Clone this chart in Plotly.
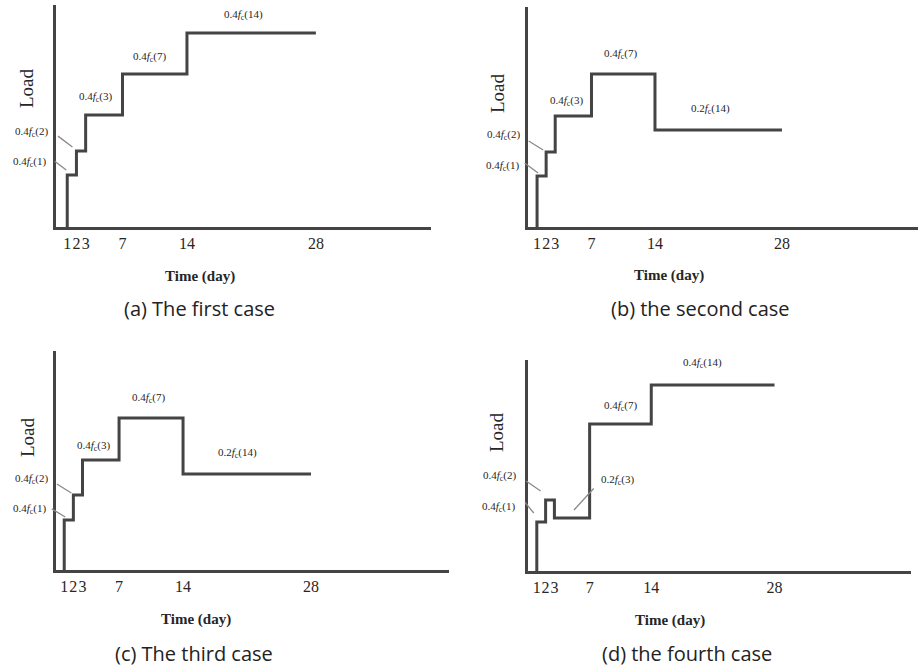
import plotly.graph_objects as go

W, H = 918, 670

# ---------------- data ----------------
days = [1, 2, 3, 7, 14, 28]
tick_vals = [1, 2, 3, 7, 14, 28]
tick_text = ["1", "2", "3", "7", "14", "28"]

load_a = [52, 76, 112, 153, 194]
load_b = [51, 75, 111, 153, 97]
load_c = [50, 75, 110, 152, 96]
load_d = [49, 71, 53, 147, 186]

coef_a = [0.4, 0.4, 0.4, 0.4, 0.4]
coef_b = [0.4, 0.4, 0.4, 0.4, 0.2]
coef_c = [0.4, 0.4, 0.4, 0.4, 0.2]
coef_d = [0.4, 0.4, 0.2, 0.4, 0.4]
ages = [1, 2, 3, 7, 14]

captions = ["(a) The first case", "(b) the second case",
            "(c) The third case", "(d) the fourth case"]

# ---------------- layout / style ----------------
SERIF = "Liberation Serif, Times New Roman, serif"
SANS = "Open Sans, Noto Sans, sans-serif"
LINE = "#444444"
TXT = "#262626"

panels = [
    dict(load=load_a, coef=coef_a, px=(56, 431), py=(5, 227), xr=[-0.22, 40.5], ymax=222,
         lab=[(-8, 13), (-6, 19)], lead=[(-1, 5, -13, -10), (-4, 4, -16, -12)],
         top={2: (-9, 18), 3: (-5, 17), 4: (-8, 18)},
         time=(200, 276), loadlbl=(26, 88), cap=(199, 308)),
    dict(load=load_b, coef=coef_b, px=(528, 918), py=(7, 227), xr=[0, 43], ymax=220,
         lab=[(-7, 10), (-6, 17)], lead=[(1, 3, -15, -11), (-3, 2, -16, -10)],
         top={2: (-7, 15), 3: (-3, 20), 4: (-8, 21)},
         time=(669, 275), loadlbl=(498, 93), cap=(700, 308)),
    dict(load=load_c, coef=coef_c, px=(56, 449), py=(351, 570), xr=[0.1, 43.1], ymax=219,
         lab=[(-8, 11), (-6, 16)], lead=[(1, 3, -15, -9), (-2, 2, -16, -10)],
         top={2: (-7, 14), 3: (-3, 20), 4: (-10, 21)},
         time=(196, 619), loadlbl=(27, 437), cap=(194, 653)),
    dict(load=load_d, coef=coef_d, px=(528, 911), py=(360, 571), xr=[0, 43.5], ymax=211,
         lab=[(-11, 15), (-10, 24)], lead=[(-3, 9, -10, -12), (-5, 9, -16, -11)],
         top={3: (0, 18), 4: (-10, 22)},
         special=dict(lab=(9, 38), lead=(2, 8, 21, -23)),
         time=(670, 620), loadlbl=(496, 432), cap=(687, 653)),
]


def ftext(c, a):
    return f"{c}<i>f</i><sub>c</sub>({a})"


def leader(xa, ya, x, y, tx, ty, axp, ayp):
    # thin grey leader line drawn as an annotation arrow without text
    return dict(xref=xa, yref=ya, x=x, y=y, text="",
                showarrow=True, arrowhead=0, arrowwidth=1.3, arrowcolor="#8a8a8a",
                ax=axp, ay=ayp, standoff=0, xshift=tx, yshift=ty)


fig = go.Figure()
annotations = []
layout = {}

for i, p in enumerate(panels):
    n = "" if i == 0 else str(i + 1)
    xa, ya = "x" + n, "y" + n
    xs = [days[0]] + days
    ys = [0] + p["load"] + [p["load"][-1]]
    fig.add_trace(go.Scatter(x=xs, y=ys, mode="lines", line=dict(color=LINE, width=3, shape="hv"),
                             xaxis=xa, yaxis=ya, showlegend=False, hoverinfo="skip"))
    layout["xaxis" + n] = dict(
        domain=[p["px"][0] / W, p["px"][1] / W], anchor=ya, range=p["xr"],
        showgrid=False, zeroline=False, showline=True, linecolor=LINE, linewidth=3,
        tickmode="array", tickvals=tick_vals, ticktext=tick_text, ticks="", tickangle=0,
        ticklabelstandoff=0,
        tickfont=dict(family=SERIF, size=16, color=TXT))
    layout["yaxis" + n] = dict(
        domain=[1 - p["py"][1] / H, 1 - p["py"][0] / H], anchor=xa, range=[0, p["ymax"]],
        showgrid=False, zeroline=False, showline=True, linecolor=LINE, linewidth=3,
        showticklabels=False, ticks="")

    lf = dict(family=SERIF, size=11, color=TXT)
    # left labels (day 1 and day 2) with leader lines
    for k in range(2):
        xsft, ysft = p["lab"][k]
        annotations.append(dict(xref=xa + " domain", yref=ya, x=0, y=p["load"][k],
                                text=ftext(p["coef"][k], ages[k]), showarrow=False,
                                xanchor="right", yanchor="middle", xshift=xsft, yshift=ysft, font=lf))
        annotations.append(leader(xa, ya, days[k], p["load"][k], *p["lead"][k]))
    # top labels
    for k, (xsft, ysft) in p["top"].items():
        annotations.append(dict(xref=xa, yref=ya, x=(days[k] + days[k + 1]) / 2, y=p["load"][k],
                                text=ftext(p["coef"][k], ages[k]), showarrow=False,
                                xanchor="center", yanchor="middle", xshift=xsft, yshift=ysft, font=lf))
    if "special" in p:
        s = p["special"]
        annotations.append(dict(xref=xa, yref=ya, x=days[3], y=p["load"][2],
                                text=ftext(p["coef"][2], ages[2]), showarrow=False,
                                xanchor="left", yanchor="middle", xshift=s["lab"][0], yshift=s["lab"][1], font=lf))
        annotations.append(leader(xa, ya, (days[2] + days[3]) / 2, p["load"][2], *s["lead"]))
    # axis titles and captions
    annotations.append(dict(xref="paper", yref="paper", x=p["time"][0] / W, y=1 - p["time"][1] / H,
                            text="<b>Time (day)</b>", showarrow=False, xanchor="center", yanchor="middle",
                            font=dict(family=SERIF, size=15, color=TXT)))
    annotations.append(dict(xref="paper", yref="paper", x=p["loadlbl"][0] / W, y=1 - p["loadlbl"][1] / H,
                            text="Load", textangle=-90, showarrow=False, xanchor="center", yanchor="middle",
                            font=dict(family=SERIF, size=19, color=TXT)))
    annotations.append(dict(xref="paper", yref="paper", x=p["cap"][0] / W, y=1 - p["cap"][1] / H,
                            text=captions[i], showarrow=False, xanchor="center", yanchor="middle",
                            font=dict(family=SANS, size=20, color="#222222")))

fig.update_layout(width=W, height=H, margin=dict(l=0, r=0, t=0, b=0),
                  plot_bgcolor="white", paper_bgcolor="white",
                  annotations=annotations, **layout)

fig.write_html("out.html")
